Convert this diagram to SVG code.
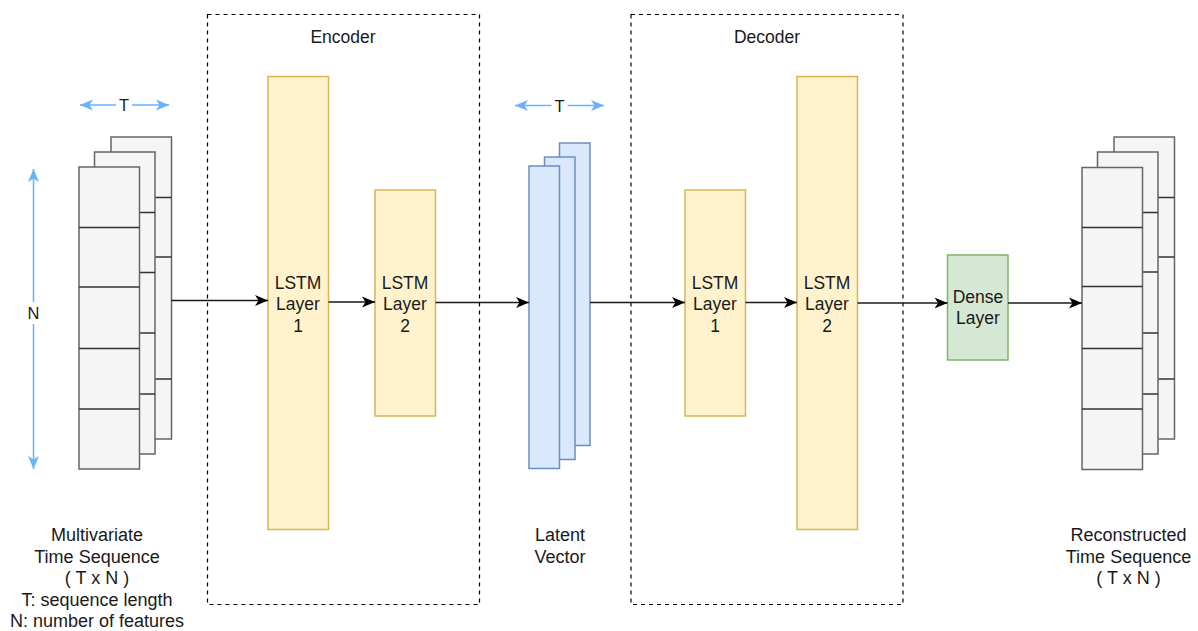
<svg xmlns="http://www.w3.org/2000/svg" width="1198" height="631" viewBox="0 0 1198 631">
<style>
text{font-family:"Liberation Sans",Arial,Helvetica,sans-serif;font-size:17.5px;fill:#1a1a1a;text-anchor:middle}
.cap{font-size:18px}
.dimt{font-size:16.5px}
.seq{fill:#f5f5f5;stroke:#666666;stroke-width:1.5}
.cell{stroke:#333333;stroke-width:1.5}
.lstm{fill:#fff2cc;stroke:#d6b656;stroke-width:1.5}
.lat{fill:#dae8fc;stroke:#6c8ebf;stroke-width:1.5}
.dense{fill:#d5e8d4;stroke:#82b366;stroke-width:1.5}
.frame{fill:none;stroke:#000;stroke-width:1.2;stroke-dasharray:4 4}
.conn{stroke:#1a1a1a;stroke-width:1.3;fill:none}
.dim{stroke:#66b2ff;stroke-width:1.5;fill:none}
.lbl{fill:#ffffff}
</style>
<defs>
<marker id="arr" markerUnits="userSpaceOnUse" markerWidth="14" markerHeight="12" viewBox="0 -6 14 12" refX="13" refY="0" orient="auto">
<path d="M0,-5.5 L13,0 L0,5.5 L3.5,0 Z" fill="#000"/>
</marker>
<marker id="barr" markerUnits="userSpaceOnUse" markerWidth="14" markerHeight="12" viewBox="0 -6 14 12" refX="13" refY="0" orient="auto-start-reverse">
<path d="M0,-5.5 L13,0 L0,5.5 L3.5,0 Z" fill="#66b2ff"/>
</marker>
</defs>
<rect width="1198" height="631" fill="#ffffff"/>

<g id="encoder">
<rect class="frame" x="207.5" y="14.5" width="272" height="590"/>
<text x="343" y="43">Encoder</text>
</g>
<g id="decoder">
<rect class="frame" x="631" y="14.5" width="272" height="590"/>
<text x="767" y="43">Decoder</text>
</g>

<g id="input-seq">
<rect class="seq" x="111" y="137" width="60.5" height="302"/>
<line class="cell" x1="111" y1="197.5" x2="171.5" y2="197.5"/>
<line class="cell" x1="111" y1="257" x2="171.5" y2="257"/>
<line class="cell" x1="111" y1="379" x2="171.5" y2="379"/>
<rect class="seq" x="94.5" y="152" width="60.5" height="302"/>
<line class="cell" x1="94.5" y1="212.5" x2="155" y2="212.5"/>
<line class="cell" x1="94.5" y1="272.5" x2="155" y2="272.5"/>
<line class="cell" x1="94.5" y1="333" x2="155" y2="333"/>
<line class="cell" x1="94.5" y1="394" x2="155" y2="394"/>
<rect class="seq" x="79" y="167" width="60.5" height="302"/>
<line class="cell" x1="79" y1="227.5" x2="139.5" y2="227.5"/>
<line class="cell" x1="79" y1="287" x2="139.5" y2="287"/>
<line class="cell" x1="79" y1="348.5" x2="139.5" y2="348.5"/>
<line class="cell" x1="79" y1="409" x2="139.5" y2="409"/>
</g>
<g id="input-T">
<line class="dim" x1="80" y1="105" x2="169" y2="105" marker-start="url(#barr)" marker-end="url(#barr)"/>
<rect class="lbl" x="116" y="95" width="16" height="20"/>
<text class="dimt" x="124" y="111">T</text>
</g>
<g id="input-N">
<line class="dim" x1="33.5" y1="169" x2="33.5" y2="469" marker-start="url(#barr)" marker-end="url(#barr)"/>
<rect class="lbl" x="24" y="302" width="19" height="22"/>
<text class="dimt" x="33.5" y="319">N</text>
</g>
<g id="input-label">
<text class="cap" x="97" y="541">Multivariate</text>
<text class="cap" x="97" y="562.5">Time Sequence</text>
<text class="cap" x="97" y="584">( T x N )</text>
<text class="cap" x="97" y="605.5">T: sequence length</text>
<text class="cap" x="97" y="627">N: number of features</text>
</g>

<g id="enc-lstm1">
<rect class="lstm" x="268" y="76.5" width="60.5" height="453"/>
<text x="298" y="289">LSTM</text>
<text x="298" y="310">Layer</text>
<text x="298" y="331.5">1</text>
</g>
<g id="enc-lstm2">
<rect class="lstm" x="375" y="190" width="60.5" height="226"/>
<text x="405" y="289">LSTM</text>
<text x="405" y="310">Layer</text>
<text x="405" y="331.5">2</text>
</g>

<g id="latent">
<rect class="lat" x="559.5" y="143" width="30.5" height="302.5"/>
<rect class="lat" x="544.5" y="157" width="30.5" height="302.5"/>
<rect class="lat" x="529" y="166" width="30.5" height="302.5"/>
</g>
<g id="latent-T">
<line class="dim" x1="515" y1="105.5" x2="604" y2="105.5" marker-start="url(#barr)" marker-end="url(#barr)"/>
<rect class="lbl" x="551.5" y="95.5" width="16" height="20"/>
<text class="dimt" x="559.5" y="111.5">T</text>
</g>
<g id="latent-label">
<text class="cap" x="560" y="541">Latent</text>
<text class="cap" x="560" y="562.5">Vector</text>
</g>

<g id="dec-lstm1">
<rect class="lstm" x="685" y="190" width="60.5" height="226"/>
<text x="715" y="289">LSTM</text>
<text x="715" y="310">Layer</text>
<text x="715" y="331.5">1</text>
</g>
<g id="dec-lstm2">
<rect class="lstm" x="797" y="76.5" width="60.5" height="453"/>
<text x="827" y="289">LSTM</text>
<text x="827" y="310">Layer</text>
<text x="827" y="331.5">2</text>
</g>

<g id="dense">
<rect class="dense" x="947.5" y="255" width="60.5" height="105"/>
<text x="978" y="302.5">Dense</text>
<text x="978" y="324">Layer</text>
</g>

<g id="output-seq">
<rect class="seq" x="1114" y="137" width="60.5" height="302"/>
<line class="cell" x1="1114" y1="197.5" x2="1174.5" y2="197.5"/>
<line class="cell" x1="1114" y1="257" x2="1174.5" y2="257"/>
<line class="cell" x1="1114" y1="379" x2="1174.5" y2="379"/>
<rect class="seq" x="1097.5" y="152" width="60.5" height="302"/>
<line class="cell" x1="1097.5" y1="212.5" x2="1158" y2="212.5"/>
<line class="cell" x1="1097.5" y1="272" x2="1158" y2="272"/>
<line class="cell" x1="1097.5" y1="333" x2="1158" y2="333"/>
<line class="cell" x1="1097.5" y1="394" x2="1158" y2="394"/>
<rect class="seq" x="1082" y="167.5" width="60.5" height="302"/>
<line class="cell" x1="1082" y1="227.5" x2="1142.5" y2="227.5"/>
<line class="cell" x1="1082" y1="286.5" x2="1142.5" y2="286.5"/>
<line class="cell" x1="1082" y1="348.5" x2="1142.5" y2="348.5"/>
<line class="cell" x1="1082" y1="409" x2="1142.5" y2="409"/>
</g>
<g id="output-label">
<text class="cap" x="1128.5" y="541">Reconstructed</text>
<text class="cap" x="1128.5" y="562.5">Time Sequence</text>
<text class="cap" x="1128.5" y="584">( T x N )</text>
</g>

<g id="connectors">
<line class="conn" x1="171.5" y1="300.5" x2="268" y2="300.5" marker-end="url(#arr)"/>
<line class="conn" x1="328.5" y1="302" x2="375" y2="302" marker-end="url(#arr)"/>
<line class="conn" x1="435.5" y1="302.5" x2="529" y2="302.5" marker-end="url(#arr)"/>
<line class="conn" x1="590" y1="302.5" x2="685" y2="302.5" marker-end="url(#arr)"/>
<line class="conn" x1="745.5" y1="302.5" x2="797" y2="302.5" marker-end="url(#arr)"/>
<line class="conn" x1="857.5" y1="303" x2="947.5" y2="303" marker-end="url(#arr)"/>
<line class="conn" x1="1008" y1="303" x2="1082" y2="303" marker-end="url(#arr)"/>
</g>
</svg>
